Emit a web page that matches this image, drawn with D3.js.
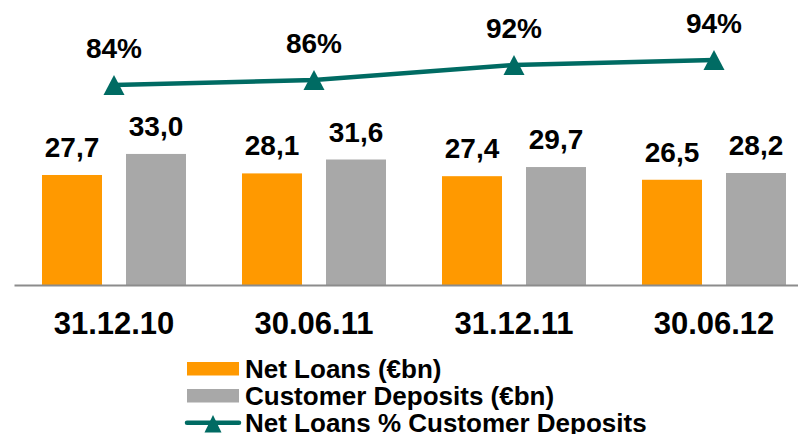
<!DOCTYPE html>
<html>
<head>
<meta charset="utf-8">
<script src="https://cdn.jsdelivr.net/npm/d3@7.9.0/dist/d3.min.js"></script>
<style>
  html, body { margin: 0; padding: 0; background: #fff; }
  svg { display: block; font-family: 'Liberation Sans', Arial, sans-serif; font-weight: bold; }
</style>
</head>
<body>
<svg id="chart" width="798" height="434"></svg>
<script>
// data
const categories = ['31.12.10', '30.06.11', '31.12.11', '30.06.12'];
const netLoans = [27.7, 28.1, 27.4, 26.5];
const customerDeposits = [33.0, 31.6, 29.7, 28.2];
const loansPctDeposits = [84, 86, 92, 94];
const legendLabels = ['Net Loans (€bn)', 'Customer Deposits (€bn)', 'Net Loans % Customer Deposits'];

const orange = '#ff9900';
const grey = '#a8a8a8';
const teal = '#006b63';

const svg = d3.select('#chart');

const fmt = d3.formatLocale({ decimal: ',', thousands: '.', grouping: [3], currency: ['', '€'] }).format('.1f');

const x = d3.scaleBand().domain(categories).range([14, 814]).padding(0);
const sub = d3.scaleBand().domain(['loans', 'deposits']).range([28, 172]).paddingInner(2 / 7);
const y = d3.scaleLinear().domain([0, 35]).range([285, 146]);
const yPct = d3.scaleLinear().domain([0, 100]).range([295, 45]);

const rows = categories.map((c, i) => ({
  cat: c,
  loans: netLoans[i],
  deposits: customerDeposits[i],
  pct: loansPctDeposits[i],
}));

// bars
const groups = svg.selectAll('g.group')
  .data(rows)
  .join('g')
  .attr('class', 'group')
  .attr('transform', (d) => `translate(${x(d.cat)},0)`);

const series = [
  { key: 'loans', color: orange },
  { key: 'deposits', color: grey },
];

series.forEach((s) => {
  groups.append('rect')
    .attr('x', sub(s.key))
    .attr('width', sub.bandwidth())
    .attr('y', (d) => y(d[s.key]))
    .attr('height', (d) => y(0) - y(d[s.key]))
    .attr('fill', s.color);

  groups.append('text')
    .attr('x', sub(s.key) + sub.bandwidth() / 2)
    .attr('y', (d) => y(d[s.key]) - 18)
    .attr('text-anchor', 'middle')
    .attr('font-size', 28)
    .attr('fill', '#000')
    .text((d) => fmt(d[s.key]));
});

// axis
const axis = svg.append('g')
  .attr('transform', `translate(0,${y(0)})`)
  .call(d3.axisBottom(x).tickSize(0).tickSizeOuter(0));
axis.select('.domain').attr('stroke', '#8c8c8c').attr('stroke-width', 2);
axis.selectAll('.tick text')
  .attr('y', 49)
  .attr('dy', 0)
  .attr('font-size', 31)
  .attr('font-family', "'Liberation Sans', Arial, sans-serif")
  .attr('font-weight', 'bold')
  .attr('fill', '#000');

// ratio line
const cx = (d) => x(d.cat) + x.bandwidth() / 2;
const line = d3.line().x(cx).y((d) => yPct(d.pct));

svg.append('path')
  .datum(rows)
  .attr('d', line)
  .attr('fill', 'none')
  .attr('stroke', teal)
  .attr('stroke-width', 4.5);

const tri = 'M0,-10L10.5,10L-10.5,10Z';

svg.selectAll('path.marker')
  .data(rows)
  .join('path')
  .attr('class', 'marker')
  .attr('d', tri)
  .attr('transform', (d) => `translate(${cx(d)},${yPct(d.pct)})`)
  .attr('fill', teal);

svg.selectAll('text.pct')
  .data(rows)
  .join('text')
  .attr('class', 'pct')
  .attr('x', cx)
  .attr('y', (d) => yPct(d.pct) - 27)
  .attr('text-anchor', 'middle')
  .attr('font-size', 28)
  .attr('fill', '#000')
  .text((d) => `${d.pct}%`);

// legend
const legend = svg.append('g');
const legendY = [378, 405, 432];

legend.append('rect').attr('x', 187).attr('y', 362).attr('width', 52).attr('height', 13.5).attr('fill', orange);
legend.append('rect').attr('x', 187).attr('y', 389).attr('width', 52).attr('height', 13.5).attr('fill', grey);
legend.append('line')
  .attr('x1', 187).attr('x2', 239).attr('y1', 422.7).attr('y2', 422.7)
  .attr('stroke', teal).attr('stroke-width', 4.5).attr('stroke-linecap', 'round');
legend.append('path')
  .attr('d', 'M0,-8.5L8.5,9L-8.5,9Z')
  .attr('transform', 'translate(213,423.5)')
  .attr('fill', teal);

legend.selectAll('text')
  .data(legendLabels)
  .join('text')
  .attr('x', 245)
  .attr('y', (d, i) => legendY[i])
  .attr('font-size', 26)
  .attr('fill', '#000')
  .text((d) => d);
</script>
</body>
</html>
